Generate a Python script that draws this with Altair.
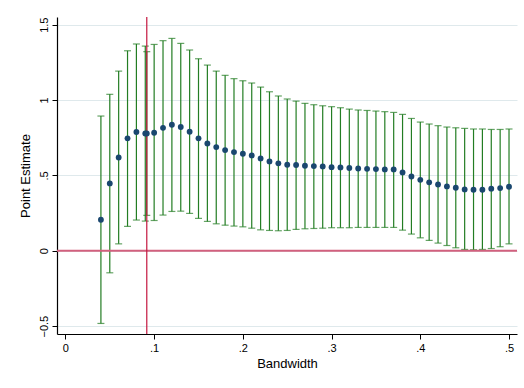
import altair as alt
import pandas as pd

# Local-polynomial estimates across bandwidths, with 95% confidence bounds
bandwidth = [0.04, 0.05, 0.06, 0.07, 0.08, 0.09, 0.0917, 0.10, 0.11, 0.12, 0.13,
             0.14, 0.15, 0.16, 0.17, 0.18, 0.19, 0.20, 0.21, 0.22, 0.23, 0.24,
             0.25, 0.26, 0.27, 0.28, 0.29, 0.30, 0.31, 0.32, 0.33, 0.34, 0.35,
             0.36, 0.37, 0.38, 0.39, 0.40, 0.41, 0.42, 0.43, 0.44, 0.45, 0.46,
             0.47, 0.48, 0.49, 0.50]
estimate = [0.206, 0.447, 0.619, 0.746, 0.788, 0.778, 0.778, 0.783, 0.816, 0.836, 0.821,
            0.790, 0.746, 0.712, 0.688, 0.668, 0.655, 0.644, 0.633, 0.613, 0.593, 0.580,
            0.571, 0.569, 0.564, 0.562, 0.560, 0.555, 0.553, 0.549, 0.546, 0.544, 0.542,
            0.540, 0.540, 0.520, 0.493, 0.471, 0.454, 0.440, 0.427, 0.418, 0.407, 0.405,
            0.405, 0.412, 0.416, 0.425]
upper = [0.894, 1.038, 1.192, 1.327, 1.372, 1.358, 1.321, 1.369, 1.394, 1.409, 1.376,
         1.332, 1.274, 1.232, 1.192, 1.164, 1.142, 1.128, 1.113, 1.086, 1.055, 1.027,
         1.007, 0.993, 0.978, 0.969, 0.962, 0.956, 0.949, 0.940, 0.934, 0.931, 0.927,
         0.923, 0.918, 0.905, 0.878, 0.854, 0.841, 0.830, 0.821, 0.816, 0.812, 0.808,
         0.808, 0.805, 0.805, 0.808]
lower = [-0.482, -0.146, 0.046, 0.162, 0.204, 0.197, 0.235, 0.201, 0.237, 0.261, 0.263,
         0.248, 0.215, 0.195, 0.179, 0.170, 0.164, 0.159, 0.150, 0.139, 0.135, 0.133,
         0.135, 0.142, 0.146, 0.148, 0.150, 0.153, 0.153, 0.153, 0.155, 0.155, 0.155,
         0.155, 0.155, 0.137, 0.111, 0.086, 0.069, 0.051, 0.035, 0.020, 0.009, 0.007,
         0.009, 0.015, 0.027, 0.046]

optimal_bw = [0.0917]
x_ticks = [0, 0.1, 0.2, 0.3, 0.4, 0.5]
y_ticks = [-0.5, 0, 0.5, 1, 1.5]

df = pd.DataFrame({"bw": bandwidth, "est": estimate, "lo": lower, "hi": upper})
vline = pd.DataFrame({"bw": optimal_bw})
hline = pd.DataFrame({"y": [0]})

FONT = "Liberation Sans"
xs = alt.Scale(domain=[-0.0095, 0.509], nice=False, zero=False)
ys = alt.Scale(domain=[-0.552, 1.551], nice=False, zero=False)

x_axis = alt.Axis(values=x_ticks, labelExpr="replace(format(datum.value, '.1~f'), /^0\\./, '.')",
                  title="Bandwidth", grid=False, tickSize=5, labelPadding=3,
                  titlePadding=4)
y_axis = alt.Axis(values=y_ticks, labelExpr="replace(format(datum.value, '.1~f'), /^(-?)0\\./, '$1.')",
                  title="Point Estimate", grid=True, tickSize=5, labelAngle=270,
                  labelAlign="center", labelBaseline="bottom", labelPadding=3,
                  titlePadding=6)

base = alt.Chart(df)

bars = base.mark_rule(color="#237d23", strokeWidth=1.2).encode(
    x=alt.X("bw:Q", scale=xs, axis=x_axis),
    y=alt.Y("lo:Q", scale=ys, axis=y_axis),
    y2="hi:Q",
)
caps_hi = base.mark_tick(color="#237d23", orient="horizontal", size=7, thickness=1.2).encode(
    x=alt.X("bw:Q", scale=xs), y=alt.Y("hi:Q", scale=ys)
)
caps_lo = base.mark_tick(color="#237d23", orient="horizontal", size=7, thickness=1.2).encode(
    x=alt.X("bw:Q", scale=xs), y=alt.Y("lo:Q", scale=ys)
)
zero_line = alt.Chart(hline).mark_rule(color="#d2607e", strokeWidth=2).encode(
    y=alt.Y("y:Q", scale=ys)
)
opt_line = alt.Chart(vline).mark_rule(color="#c4163f", strokeWidth=1.2).encode(
    x=alt.X("bw:Q", scale=xs)
)
dots = base.mark_circle(color="#1a476f", size=34, opacity=1).encode(
    x=alt.X("bw:Q", scale=xs), y=alt.Y("est:Q", scale=ys)
)

chart = alt.layer(bars, caps_hi, caps_lo, zero_line, opt_line, dots).properties(
    width=460, height=317,
    autosize=alt.AutoSizeParams(type="none"),
    padding={"left": 57, "top": 17, "right": 7, "bottom": 54},
    background="white",
).configure_view(strokeWidth=0).configure_axis(
    labelFont=FONT, titleFont=FONT, labelFontSize=11, titleFontSize=13,
    labelColor="#000000", titleColor="#000000", titleFontWeight="normal",
    domainColor="#000000", tickColor="#000000", domainWidth=1.2, tickWidth=1,
    gridColor="#dfe9ec", gridWidth=1,
)

chart.save("out.html", embed_options={"renderer": "svg", "actions": False})
